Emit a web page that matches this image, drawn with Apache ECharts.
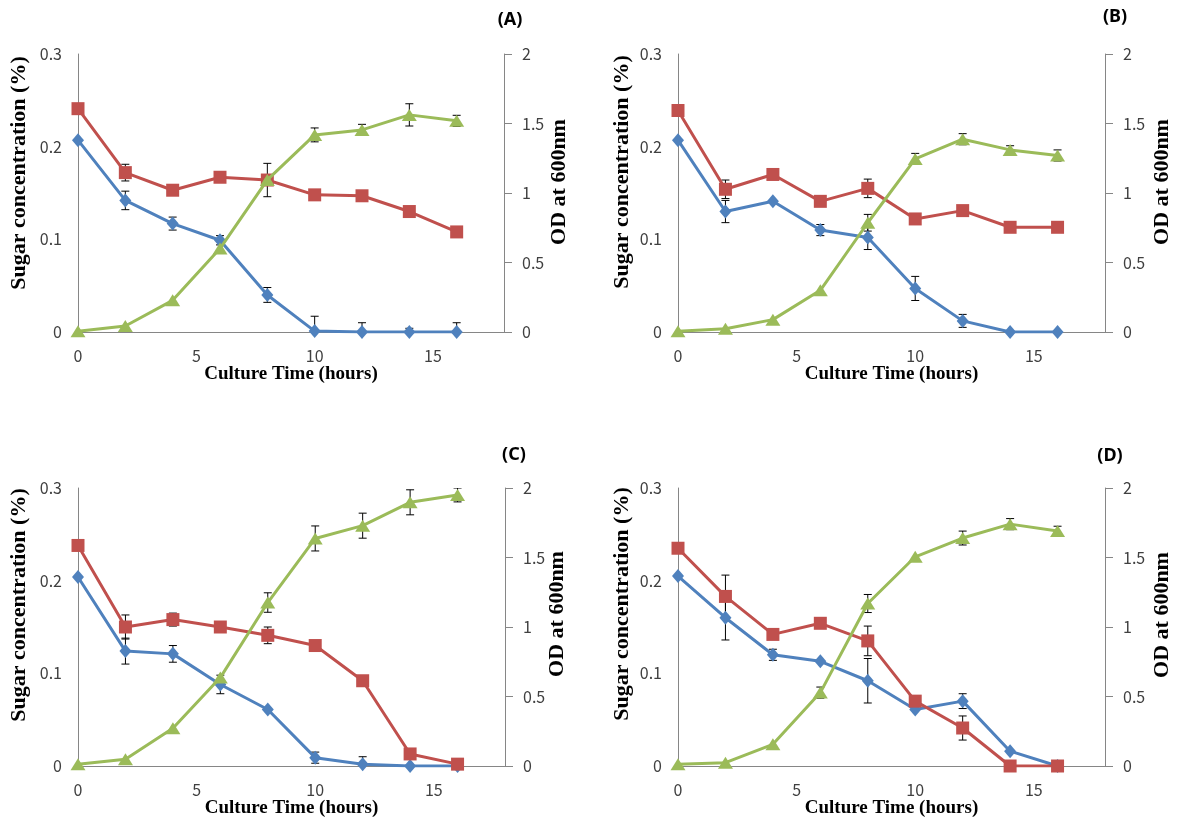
<!DOCTYPE html>
<html>
<head>
<meta charset="utf-8">
<script src="https://cdn.jsdelivr.net/npm/echarts@6/dist/echarts.min.js"></script>
<style>
  html, body { margin: 0; padding: 0; background: #fff; }
  #chart { width: 1179px; height: 819px; }
</style>
</head>
<body>
<div id="chart"></div>
<script>
// culture time (hours)
const hours = [0, 2, 4, 6, 8, 10, 12, 14, 16]

// (A)
const blueA = [0.207, 0.142, 0.117, 0.099, 0.040, 0.001, 0, 0, 0]
const blueErrA = [0, 0.010, 0.007, 0.005, 0.008, 0.016, 0.010, 0.004, 0.010]
const redA = [0.241, 0.172, 0.153, 0.167, 0.164, 0.148, 0.147, 0.130, 0.108]
const redErrA = [0, 0.009, 0, 0, 0.018, 0, 0, 0, 0]
const greenA = [0.005, 0.043, 0.228, 0.600, 1.094, 1.418, 1.454, 1.562, 1.519]
const greenErrA = [0, 0, 0, 0, 0, 0.05, 0.04, 0.08, 0.04]

// (B)
const blueB = [0.207, 0.130, 0.141, 0.110, 0.102, 0.047, 0.012, 0, 0]
const blueErrB = [0, 0.012, 0, 0.006, 0.013, 0.013, 0.007, 0, 0]
const redB = [0.239, 0.154, 0.170, 0.141, 0.155, 0.122, 0.131, 0.113, 0.113]
const redErrB = [0, 0.010, 0, 0, 0.010, 0, 0, 0, 0]
const greenB = [0.005, 0.024, 0.089, 0.300, 0.786, 1.245, 1.387, 1.310, 1.270]
const greenErrB = [0, 0, 0, 0, 0.06, 0.04, 0.04, 0.03, 0.04]

// (C)
const blueC = [0.204, 0.124, 0.121, 0.088, 0.061, 0.009, 0.002, 0, 0]
const blueErrC = [0, 0.014, 0.009, 0.010, 0, 0.006, 0.008, 0, 0]
const redC = [0.238, 0.150, 0.158, 0.150, 0.141, 0.130, 0.092, 0.013, 0.002]
const redErrC = [0, 0.013, 0.007, 0, 0.009, 0, 0, 0, 0]
const greenC = [0.012, 0.048, 0.271, 0.636, 1.176, 1.637, 1.729, 1.897, 1.950]
const greenErrC = [0, 0, 0, 0, 0.07, 0.09, 0.09, 0.09, 0.05]

// (D)
const blueD = [0.205, 0.160, 0.120, 0.113, 0.092, 0.061, 0.070, 0.016, 0]
const blueErrD = [0, 0.024, 0.006, 0, 0.024, 0, 0.008, 0, 0]
const redD = [0.235, 0.183, 0.142, 0.154, 0.135, 0.070, 0.041, 0, 0]
const redErrD = [0, 0.023, 0, 0, 0.016, 0, 0.013, 0, 0]
const greenD = [0.012, 0.024, 0.156, 0.528, 1.169, 1.505, 1.640, 1.740, 1.690]
const greenErrD = [0, 0, 0, 0.04, 0.065, 0, 0.05, 0.04, 0.035]

const panels = [
  { label: '(A)', blue: blueA, blueErr: blueErrA, red: redA, redErr: redErrA, green: greenA, greenErr: greenErrA },
  { label: '(B)', blue: blueB, blueErr: blueErrB, red: redB, redErr: redErrB, green: greenB, greenErr: greenErrB },
  { label: '(C)', blue: blueC, blueErr: blueErrC, red: redC, redErr: redErrC, green: greenC, greenErr: greenErrC },
  { label: '(D)', blue: blueD, blueErr: blueErrD, red: redD, redErr: redErrD, green: greenD, greenErr: greenErrD },
]

// plot boxes
const boxes = [
  { left: 78, top: 54, width: 426, height: 278, yName: [19, 173], odName: [559, 182], tag: [510, 20] },
  { left: 678, top: 54, width: 427, height: 278, yName: [622, 172], odName: [1162, 182], tag: [1115, 17] },
  { left: 78, top: 488, width: 427, height: 278, yName: [19, 605], odName: [557, 614], tag: [514, 455] },
  { left: 678, top: 488, width: 427, height: 278, yName: [622, 604], odName: [1162, 615], tag: [1110, 456] },
]

const BLUE = '#4F81BD'
const RED = '#C0504D'
const GREEN = '#9BBB59'
const AXIS = '#868686'
const tickFont = { color: '#404040', fontSize: 16, fontFamily: 'Noto Sans CJK KR' }
const titleFont = 'Liberation Serif'

function errData(vals, errs) {
  let out = []
  hours.forEach((h, i) => {
    if (errs[i] > 0) out.push([h, vals[i] - errs[i], vals[i] + errs[i]])
  })
  return out
}

function renderErr(params, api) {
  let top = api.coord([api.value(0), api.value(2)])
  let bot = api.coord([api.value(0), api.value(1)])
  let w = 4
  let style = { stroke: '#000', lineWidth: 1 }
  return {
    type: 'group',
    children: [
      { type: 'line', shape: { x1: top[0], y1: top[1], x2: bot[0], y2: bot[1] }, style },
      { type: 'line', shape: { x1: top[0] - w, y1: top[1], x2: top[0] + w, y2: top[1] }, style },
      { type: 'line', shape: { x1: bot[0] - w, y1: bot[1], x2: bot[0] + w, y2: bot[1] }, style },
    ],
  }
}

let grid = [], xAxis = [], yAxis = [], series = [], graphic = []

panels.forEach((p, k) => {
  let b = boxes[k]
  grid.push({ left: b.left, top: b.top, width: b.width, height: b.height })
  xAxis.push({
    type: 'value', gridIndex: k, min: 0, max: 18, interval: 5,
    name: 'Culture Time (hours)', nameLocation: 'middle', nameGap: 32,
    nameTextStyle: { fontFamily: titleFont, fontWeight: 'bold', fontSize: 19, color: '#000' },
    axisLine: { lineStyle: { color: AXIS } },
    axisTick: { show: false },
    axisLabel: Object.assign({ margin: 16, showMaxLabel: false }, tickFont),
    splitLine: { show: false },
  })
  yAxis.push({
    type: 'value', gridIndex: k, min: 0, max: 0.3, interval: 0.1,
    axisLine: { show: true, lineStyle: { color: AXIS } },
    axisTick: { show: false },
    axisLabel: Object.assign({ margin: 16 }, tickFont),
    splitLine: { show: false },
  })
  yAxis.push({
    type: 'value', gridIndex: k, position: 'right', min: 0, max: 2, interval: 0.5,
    axisLine: { show: true, lineStyle: { color: AXIS } },
    axisTick: { show: true, length: 8, lineStyle: { color: AXIS } },
    axisLabel: Object.assign({ margin: 18 }, tickFont),
    splitLine: { show: false },
  })

  let lines = [
    { vals: p.blue, errs: p.blueErr, color: BLUE, symbol: 'diamond', size: [12, 14], y: 2 * k },
    { vals: p.red, errs: p.redErr, color: RED, symbol: 'rect', size: 13, y: 2 * k },
    { vals: p.green, errs: p.greenErr, color: GREEN, symbol: 'triangle', size: [15, 12], y: 2 * k + 1 },
  ]
  lines.forEach((s, j) => {
    series.push({
      type: 'custom', xAxisIndex: k, yAxisIndex: s.y, clip: true, z: 1,
      renderItem: renderErr, data: errData(s.vals, s.errs), silent: true,
    })
    series.push({
      type: 'line', xAxisIndex: k, yAxisIndex: s.y, z: 2 + j,
      data: hours.map((h, i) => [h, s.vals[i]]),
      symbol: s.symbol, symbolSize: s.size, showAllSymbol: true,
      lineStyle: { color: s.color, width: 3 },
      itemStyle: { color: s.color },
      animation: false,
    })
  })

  graphic.push({
    type: 'text', x: b.yName[0], y: b.yName[1], rotation: Math.PI / 2,
    style: { text: 'Sugar concentration (%)', font: 'bold 22px "Liberation Serif"', fill: '#000', align: 'center', verticalAlign: 'middle' },
  })
  graphic.push({
    type: 'text', x: b.odName[0], y: b.odName[1], rotation: Math.PI / 2,
    style: { text: 'OD at 600nm', font: 'bold 22px "Liberation Serif"', fill: '#000', align: 'center', verticalAlign: 'middle' },
  })
  graphic.push({
    type: 'text', x: b.tag[0], y: b.tag[1],
    style: { text: p.label, font: 'bold 18px "Noto Sans"', fill: '#000', align: 'center', verticalAlign: 'middle' },
  })
})

let mychart = echarts.init(document.getElementById('chart'))
mychart.setOption({
  animation: false,
  backgroundColor: '#fff',
  grid, xAxis, yAxis, series, graphic,
})
</script>
</body>
</html>
